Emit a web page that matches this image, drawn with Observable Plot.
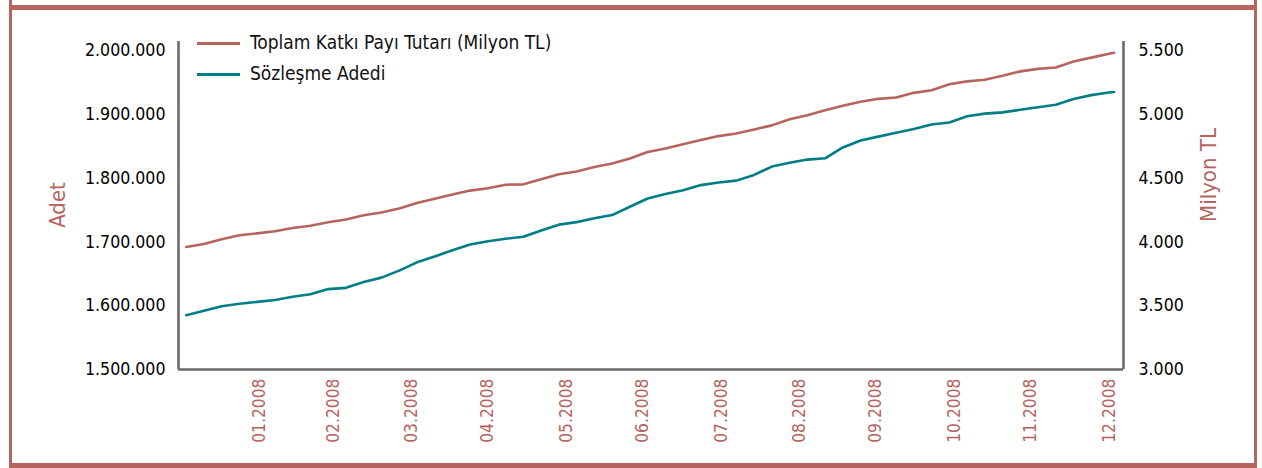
<!DOCTYPE html>
<html>
<head>
<meta charset="utf-8">
<script src="https://cdn.jsdelivr.net/npm/d3@7"></script>
<script src="https://cdn.jsdelivr.net/npm/@observablehq/plot@0.6"></script>
<style>
  html, body { margin: 0; padding: 0; background: #fff; }
  #wrap { position: relative; width: 1262px; height: 468px; overflow: hidden; font-family: "DejaVu Sans Condensed", "DejaVu Sans", sans-serif; font-stretch: condensed; }
  .fr { position: absolute; background: #b5645e; }
  #chart { position: absolute; left: 0; top: 0; }
  .leg { position: absolute; left: 197px; font-size: 19px; color: #111; white-space: nowrap; }
  .leg span.sw { display: inline-block; width: 43px; height: 3px; vertical-align: middle; margin-right: 10px; }
  .ytitle { position: absolute; font-size: 22px; color: #b5645e; white-space: nowrap; transform-origin: center center; }
</style>
</head>
<body>
<div id="wrap">
  <div id="chart"></div>
  <div class="fr" style="left:9px;top:0;width:3px;height:468px"></div>
  <div class="fr" style="left:1254px;top:0;width:3px;height:468px"></div>
  <div class="fr" style="left:9px;top:5px;width:1248px;height:5px"></div>
  <div class="fr" style="left:9px;top:463px;width:1248px;height:5px"></div>
  <div id="legend"></div>
  <div class="ytitle" id="yl"></div>
  <div class="ytitle" id="yr"></div>
</div>
<script>
// ---- data ----
const dates = [
  "2008-01-02","2008-01-09","2008-01-16","2008-01-23","2008-01-30",
  "2008-02-06","2008-02-13","2008-02-20","2008-02-27",
  "2008-03-05","2008-03-12","2008-03-19","2008-03-26",
  "2008-04-02","2008-04-09","2008-04-16","2008-04-23","2008-04-30",
  "2008-05-07","2008-05-14","2008-05-21","2008-05-28",
  "2008-06-04","2008-06-11","2008-06-18","2008-06-25",
  "2008-07-02","2008-07-09","2008-07-16","2008-07-23","2008-07-30",
  "2008-08-06","2008-08-13","2008-08-20","2008-08-27",
  "2008-09-03","2008-09-10","2008-09-17","2008-09-24",
  "2008-10-01","2008-10-08","2008-10-15","2008-10-22","2008-10-29",
  "2008-11-05","2008-11-12","2008-11-19","2008-11-26",
  "2008-12-03","2008-12-10","2008-12-17","2008-12-24","2008-12-31",
  "2009-01-02"
];
const katkiPayi = [ // Toplam Katkı Payı Tutarı (Milyon TL)
  3960,3984,4020,4052,4067,
  4084,4109,4127,4154,
  4175,4209,4230,4262,
  4304,4338,4371,4402,4420,
  4448,4451,4491,4530,
  4552,4587,4615,4653,
  4704,4732,4766,4798,4829,
  4849,4881,4913,4961,
  4993,5032,5066,5098,
  5121,5131,5168,5188,5236,
  5258,5271,5302,5336,
  5356,5367,5414,5444,5474,
  5482
];
const sozlesme = [ // Sözleşme Adedi
  1585000,1592000,1599000,1603000,1606000,
  1609000,1614000,1618000,1626000,
  1628000,1637000,1644000,1655000,
  1668000,1677000,1687000,1696000,1701000,
  1705000,1708000,1718000,1727000,
  1731000,1737000,1742000,1755000,
  1768000,1775000,1781000,1789000,1793000,
  1796000,1805000,1818000,1824000,
  1829000,1831000,1848000,1859000,
  1865000,1871000,1877000,1884000,1887000,
  1897000,1901000,1903000,1907000,
  1911000,1915000,1924000,1930000,1934000,
  1935000
];
const monthTicks = ["2008-01-31","2008-02-29","2008-03-31","2008-04-30","2008-05-31","2008-06-30",
                    "2008-07-31","2008-08-31","2008-09-30","2008-10-31","2008-11-30","2008-12-31"];
const monthLabels = ["01.2008","02.2008","03.2008","04.2008","05.2008","06.2008",
                     "07.2008","08.2008","09.2008","10.2008","11.2008","12.2008"];
const leftTicks = [1500000,1600000,1700000,1800000,1900000,2000000];
const rightTicks = [3000,3500,4000,4500,5000,5500];
const seriesNames = ["Toplam Katkı Payı Tutarı (Milyon TL)", "Sözleşme Adedi"];
const axisTitles = ["Adet", "Milyon TL"];

// ---- styles ----
const RED = "#b5645e", TEAL = "#007d86", AXIS = "#6a6a6a";
const FONT = '"DejaVu Sans Condensed", "DejaVu Sans", sans-serif';

const loc = d3.formatLocale({decimal: ",", thousands: ".", grouping: [3], currency: ["", ""]});
const fmt = loc.format(",");

// map Milyon TL onto the Adet scale: 3000 -> 1.500.000, 5500 -> 2.000.000
const toY = v => 1500000 + (v - 3000) * 200;
const fromY = y => 3000 + (y - 1500000) / 200;

const data = dates.map((d, i) => ({date: new Date(d), tl: katkiPayi[i], adet: sozlesme[i]}));
const xDomain = [new Date("2007-12-29T23:00:00Z"), new Date("2009-01-05T17:00:00Z")];

const chart = Plot.plot({
  width: 1262,
  height: 468,
  marginLeft: 178,
  marginRight: 139,
  marginTop: 41,
  marginBottom: 99,
  style: {fontFamily: FONT, fontSize: "17.6px", color: "#000", background: "transparent", fontStretch: "condensed"},
  x: {type: "utc", domain: xDomain},
  y: {domain: [1500000, 2014062]},
  marks: [
    Plot.axisY({ticks: leftTicks, tickFormat: fmt, tickSize: 0, tickPadding: 13, label: null, fontSize: 17.6}),
    Plot.axisY({anchor: "right", ticks: rightTicks.map(toY), tickFormat: y => fmt(Math.round(fromY(y))), tickSize: 0, tickPadding: 15, label: null, fontSize: 17.6}),
    Plot.axisX({ticks: monthTicks.map(d => new Date(d)), tickFormat: (d, i) => monthLabels[i], tickRotate: -90, tickSize: 0, tickPadding: 9, label: null, fill: RED, fontSize: 17.3}),
    Plot.ruleY([1500000], {stroke: AXIS, strokeWidth: 2.6}),
    Plot.ruleX(xDomain, {stroke: AXIS, strokeWidth: 2.6}),
    Plot.line(data, {x: "date", y: d => toY(d.tl), stroke: RED, strokeWidth: 2.6}),
    Plot.line(data, {x: "date", y: "adet", stroke: TEAL, strokeWidth: 2.6})
  ]
});
document.getElementById("chart").appendChild(chart);

// legend
const legend = document.getElementById("legend");
[[seriesNames[0], RED, 31], [seriesNames[1], TEAL, 62]].forEach(([name, col, top]) => {
  const div = document.createElement("div");
  div.className = "leg";
  div.style.top = top + "px";
  div.innerHTML = `<span class="sw" style="background:${col}"></span>${name}`;
  legend.appendChild(div);
});

// axis titles
const yl = document.getElementById("yl");
yl.textContent = axisTitles[0];
yl.style.left = "57px"; yl.style.top = "205px";
yl.style.transform = "translate(-50%,-50%) rotate(-90deg)";
const yr = document.getElementById("yr");
yr.textContent = axisTitles[1];
yr.style.left = "1208px"; yr.style.top = "175px";
yr.style.transform = "translate(-50%,-50%) rotate(-90deg)";
</script>
</body>
</html>
